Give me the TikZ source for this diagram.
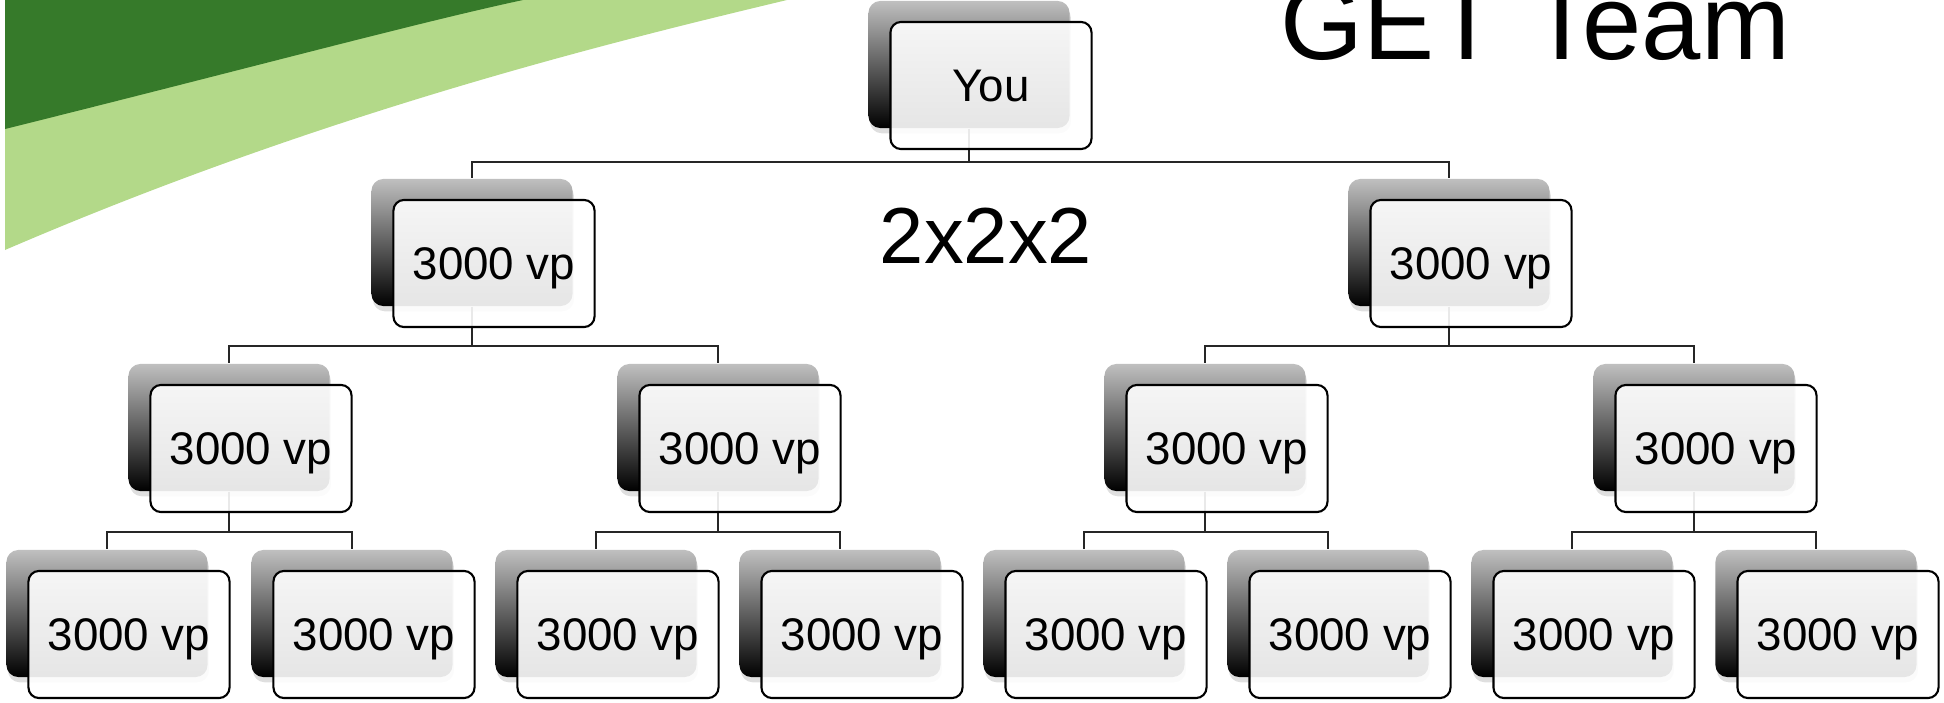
\documentclass[tikz,border=0pt]{standalone}
\usepackage{fontspec}
\setmainfont{Liberation Sans}
\usetikzlibrary{shadows,calc}
\definecolor{darkgreen}{HTML}{367A2A}
\definecolor{lightgreen}{HTML}{B3D989}

\tikzset{
  back/.style={rounded corners=3.4pt,minimum width=2.01cm,minimum height=1.27cm,inner sep=0pt,
    top color=black!25,bottom color=black,
    drop shadow={shadow xshift=0.4pt,shadow yshift=-1.5pt,opacity=0.25}},
  front/.style={rounded corners=3pt,minimum width=2.01cm,minimum height=1.27cm,inner sep=0pt,
    draw=black,line width=0.6pt,fill=white,fill opacity=0.9,text opacity=1,
    text height=9.3pt,text depth=0pt,font=\fontsize{13}{15}\selectfont},
  link/.style={draw=black!85,line width=0.6pt}
}

\begin{document}
\begin{tikzpicture}[x=0.01cm,y=-0.01cm]
\useasboundingbox (0,0) rectangle (1944,703);
% swoosh
\fill[lightgreen] (5,0) -- (787,0) .. controls (620,40) and (330,110) .. (5,250) -- cycle;
\fill[darkgreen] (5,0) -- (523,0) .. controls (420,22) and (250,68) .. (5,129) -- cycle;
% titles
\node[anchor=base west,inner sep=0pt,font=\fontsize{30.3}{36}\selectfont] (title) at (1280,60) {GET Team};
\node[anchor=base,inner sep=0pt,font=\fontsize{22.6}{27}\selectfont] (plan) at (986,263) {2x2x2};
% back boxes
\node[back] (you) at (969,64.5) {};
\node[back] (l) at (472,242.5) {};
\node[back] (r) at (1449,242.5) {};
\node[back] (ll) at (229,427.5) {};
\node[back] (lr) at (718,427.5) {};
\node[back] (rl) at (1205,427.5) {};
\node[back] (rr) at (1694,427.5) {};
\node[back] (lll) at (107,613.5) {};
\node[back] (llr) at (352,613.5) {};
\node[back] (lrl) at (596,613.5) {};
\node[back] (lrr) at (840,613.5) {};
\node[back] (rll) at (1084,613.5) {};
\node[back] (rlr) at (1328,613.5) {};
\node[back] (rrl) at (1572,613.5) {};
\node[back] (rrr) at (1816,613.5) {};
% links
\draw[link] (you.south) -- ++(0,33) -| (l.north);
\draw[link] (you.south) -- ++(0,33) -| (r.north);
\draw[link] (l.south) -- ++(0,39) -| (ll.north);
\draw[link] (l.south) -- ++(0,39) -| (lr.north);
\draw[link] (r.south) -- ++(0,39) -| (rl.north);
\draw[link] (r.south) -- ++(0,39) -| (rr.north);
\draw[link] (ll.south) -- ++(0,40) -| (lll.north);
\draw[link] (ll.south) -- ++(0,40) -| (llr.north);
\draw[link] (lr.south) -- ++(0,40) -| (lrl.north);
\draw[link] (lr.south) -- ++(0,40) -| (lrr.north);
\draw[link] (rl.south) -- ++(0,40) -| (rll.north);
\draw[link] (rl.south) -- ++(0,40) -| (rlr.north);
\draw[link] (rr.south) -- ++(0,40) -| (rrl.north);
\draw[link] (rr.south) -- ++(0,40) -| (rrr.north);
% front boxes
\node[front] (you-f) at ([shift={(22,21)}]you.center) {You};
\foreach \n in {l,r,ll,lr,rl,rr,lll,llr,lrl,lrr,rll,rlr,rrl,rrr}
  \node[front] (\n-f) at ([shift={(22,21)}]\n.center) {3000 vp};
\end{tikzpicture}
\end{document}
